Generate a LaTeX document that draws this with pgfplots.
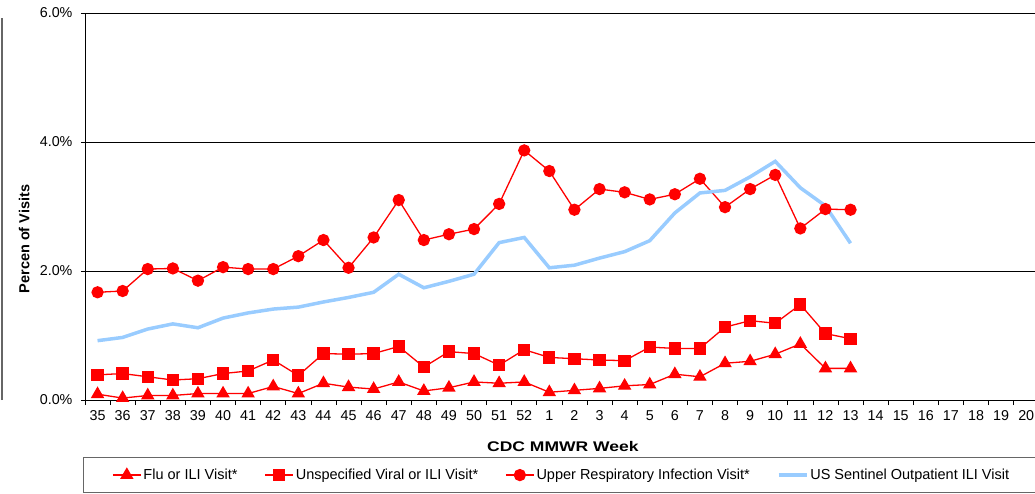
\documentclass[border=0pt]{standalone}
\usepackage{fontspec}
\setmainfont{Liberation Sans}
\usepackage{graphicx}
\usepackage{pgfplots}
\pgfplotsset{compat=1.18}
\definecolor{ired}{RGB}{255,0,0}
\definecolor{iblue}{RGB}{153,204,255}
\begin{document}
\begin{tikzpicture}
\useasboundingbox (-85pt,-93pt) rectangle (950pt,400pt);
\clip (-85pt,-93pt) rectangle (950pt,400pt);
\draw[gray!80!black, line width=2pt] (-83pt,0pt) -- (-83pt,382pt);
\begin{axis}[
  name=ax, at={(0pt,0pt)}, anchor=south west,
  scale only axis, width=950pt, height=387pt,
  xmin=-0.5, xmax=37.35, ymin=0, ymax=6,
  axis x line*=bottom, axis y line*=left,
  axis line style={black, line width=0.8pt},
  clip=false,
  xtick={0,...,37},
  xticklabels={35,36,37,38,39,40,41,42,43,44,45,46,47,48,49,50,51,52,1,2,3,4,5,6,7,8,9,10,11,12,13,14,15,16,17,18,19,20},
  minor xtick={-0.5,0.5,...,36.5},
  major x tick style={draw=none},
  minor tick length=5pt,
  ytick={0,2,4,6},
  yticklabels={0.0\%,2.0\%,4.0\%,6.0\%},
  major tick length=4pt,
  tick align=outside,
  tick style={black, line width=0.6pt},
  ymajorgrids, grid style={black, line width=0.8pt},
  /pgf/number format/assume math mode=true,
  ticklabel style={font=\fontsize{14.3}{16}\selectfont},
  xticklabel style={yshift=-3pt},
  yticklabel style={xshift=-5pt},
  xlabel={\scalebox{1.25}[1]{\bfseries\fontsize{14}{16}\selectfont CDC MMWR Week}},
  xlabel style={at={(axis description cs:0.503,-0.119)}, anchor=center},
  ylabel={\bfseries\fontsize{14.5}{16}\selectfont Percen of Visits},
  ylabel style={at={(axis description cs:-0.064,0.416)}, anchor=center, rotate=0},
  legend columns=4,
  legend style={at={(axis description cs:0.0284,-0.194)}, anchor=west, draw=none, fill=none,
    font=\fontsize{14.5}{16}\selectfont, inner sep=0pt,
    /tikz/every even column/.append style={column sep=25pt}},
  legend image code/.code={\draw[mark repeat=2,mark phase=2,#1] plot coordinates {(0pt,0pt) (14pt,0pt) (28pt,0pt)};},
]
\addplot[ired, line width=1.3pt, mark=triangle*, mark size=6.5pt, mark options={solid}] coordinates {
(0,0.09) (1,0.03) (2,0.07) (3,0.07) (4,0.10) (5,0.10) (6,0.10) (7,0.21) (8,0.10) (9,0.26)
(10,0.20) (11,0.17) (12,0.28) (13,0.14) (14,0.19) (15,0.28) (16,0.26) (17,0.28)
(18,0.12) (19,0.15) (20,0.18) (21,0.22) (22,0.24) (23,0.40) (24,0.36) (25,0.57) (26,0.60) (27,0.71) (28,0.87) (29,0.49) (30,0.49)};
\addlegendentry{Flu or ILI Visit*}
\addplot[ired, line width=1.3pt, mark=square*, mark size=5.5pt, mark options={solid}] coordinates {
(0,0.39) (1,0.41) (2,0.36) (3,0.31) (4,0.33) (5,0.41) (6,0.45) (7,0.62) (8,0.38) (9,0.72)
(10,0.71) (11,0.72) (12,0.83) (13,0.51) (14,0.75) (15,0.72) (16,0.54) (17,0.78)
(18,0.66) (19,0.64) (20,0.62) (21,0.61) (22,0.82) (23,0.80) (24,0.80) (25,1.13) (26,1.23) (27,1.19) (28,1.48) (29,1.03) (30,0.95)};
\addlegendentry{Unspecified Viral or ILI Visit*}
\addplot[ired, line width=1.3pt, mark=*, mark size=5.5pt, mark options={solid}] coordinates {
(0,1.67) (1,1.69) (2,2.03) (3,2.04) (4,1.85) (5,2.06) (6,2.03) (7,2.03) (8,2.23) (9,2.48)
(10,2.05) (11,2.52) (12,3.10) (13,2.48) (14,2.57) (15,2.65) (16,3.04) (17,3.87)
(18,3.55) (19,2.95) (20,3.27) (21,3.22) (22,3.11) (23,3.19) (24,3.43) (25,2.99) (26,3.27) (27,3.49) (28,2.66) (29,2.96) (30,2.95)};
\addlegendentry{Upper Respiratory Infection Visit*}
\addplot[iblue, line width=3.5pt, no marks] coordinates {
(0,0.92) (1,0.97) (2,1.10) (3,1.18) (4,1.12) (5,1.27) (6,1.35) (7,1.41) (8,1.44) (9,1.52)
(10,1.59) (11,1.67) (12,1.95) (13,1.74) (14,1.84) (15,1.95) (16,2.44) (17,2.52)
(18,2.05) (19,2.09) (20,2.20) (21,2.30) (22,2.47) (23,2.90) (24,3.21) (25,3.25) (26,3.46) (27,3.70) (28,3.29) (29,3.01) (30,2.43)};
\addlegendentry{US Sentinel Outpatient ILI Visit}
\end{axis}
\draw[gray!80!black, line width=1pt] (-1pt,-57pt) rectangle (960pt,-92pt);
\end{tikzpicture}
\end{document}
